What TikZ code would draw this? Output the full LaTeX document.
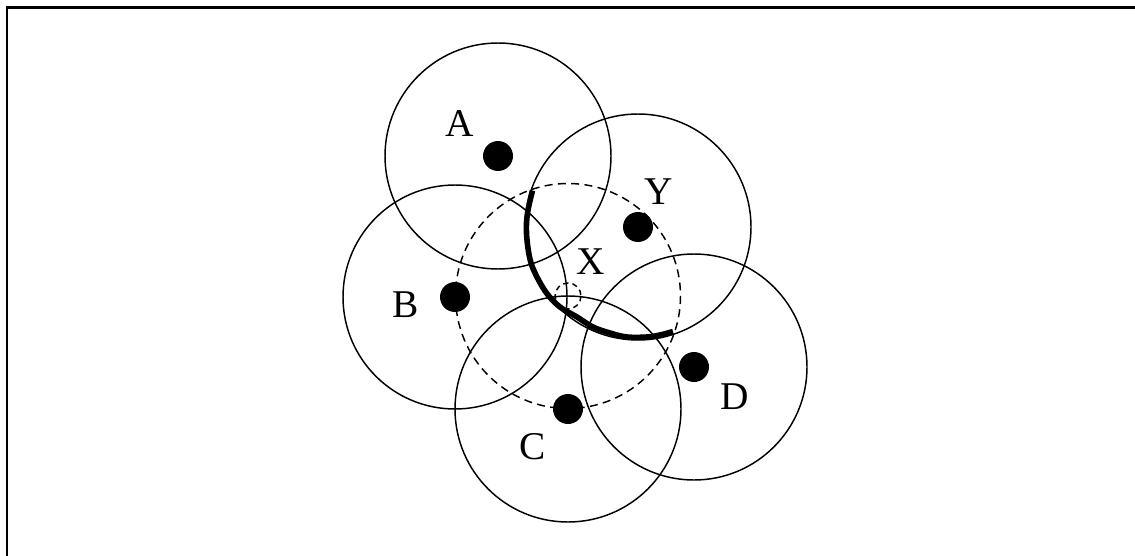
\documentclass[tikz,border=0pt]{standalone}
\usepackage{fontspec}
\setmainfont{Liberation Serif}
\begin{document}
\begin{tikzpicture}[x=0.75pt,y=-0.75pt,
  ring/.style={line width=1.1pt},
  dashring/.style={line width=1.1pt,dash pattern=on 6pt off 4pt},
  dotnode/.style={circle,fill=black,inner sep=0pt,minimum size=22.5pt},
  lbl/.style={inner sep=0pt,font=\fontsize{29.5}{29.5}\selectfont},
  frame/.style={line width=1.6pt},
  boundary/.style={line width=4.2pt,line join=round}]
\useasboundingbox (0,0) rectangle (1135,556);
% frame
\coordinate (f1) at (1135,7.5);
\coordinate (f2) at (7,7.5);
\coordinate (f3) at (7,556);
\draw[frame] (f1) -- (f2) -- (f3);
% centres
\coordinate (A) at (498,156);
\coordinate (Y) at (638,227);
\coordinate (B) at (455,297);
\coordinate (C) at (568,409);
\coordinate (D) at (694,367);
\coordinate (X) at (568,296);
% ranges
\draw[ring] (A) circle[radius=113];
\draw[ring] (Y) circle[radius=113];
\draw[ring] (B) circle[radius=112];
\draw[ring] (C) circle[radius=113];
\draw[ring] (D) circle[radius=113];
\draw[dashring] (X) circle[radius=112.5];
\draw[dashring,dash pattern=on 4pt off 3pt] (X) circle[radius=13];
% thick boundary arc (hand-drawn)
\draw[boundary] plot[smooth,tension=0.6] coordinates {
  (532.5,190.5) (527.5,213) (526.5,233) (529.5,257) (535,273)
  (546.5,293) (560,307) (577,317) (593,327) (610,333)
  (627,337) (647,337) (660,335) (673,331.5)};
% dots
\node[dotnode] (dA) at (A) {};
\node[dotnode] (dY) at (Y) {};
\node[dotnode] (dB) at (B) {};
\node[dotnode] (dC) at (C) {};
\node[dotnode] (dD) at (D) {};
% labels
\node[lbl] (lA) at (460,124) {A};
\node[lbl] (lY) at (659,192) {Y};
\node[lbl] (lX) at (591,262) {X};
\node[lbl] (lB) at (406,305) {B};
\node[lbl] (lC) at (533,447) {C};
\node[lbl] (lD) at (735,397) {D};
\end{tikzpicture}
\end{document}
